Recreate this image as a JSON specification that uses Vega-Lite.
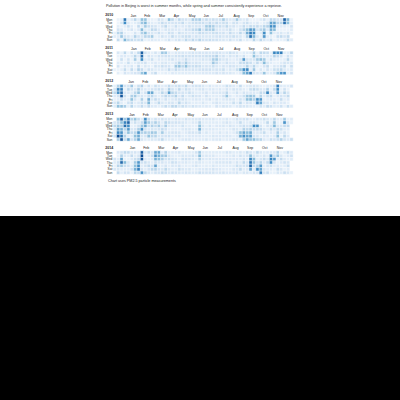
{
 "$schema": "https://vega.github.io/schema/vega-lite/v6.json",
 "background": "white",
 "padding": {"left": 0, "top": 4, "right": 0, "bottom": 0},
 "center": true,
 "spacing": 3.2,
 "title": {"text": "Pollution in Beijing is worst in summer months, while spring and summer consistently experience a reprieve.", "anchor": "start", "dx": 106, "fontSize": 3.7, "fontWeight": "normal", "color": "#222", "offset": 5},
 "config": {"view": {"stroke": null}, "font": "Liberation Sans"},
 "data": {"values": [
{"d":"2010/1/1","v":40},{"d":"2010/1/2","v":60},{"d":"2010/1/3","v":120},{"d":"2010/1/4","v":30},{"d":"2010/1/5","v":25},{"d":"2010/1/6","v":55},{"d":"2010/1/7","v":90},{"d":"2010/1/8","v":140},{"d":"2010/1/9","v":60},{"d":"2010/1/10","v":30},{"d":"2010/1/11","v":45},{"d":"2010/1/12","v":80},{"d":"2010/1/13","v":35},{"d":"2010/1/14","v":70},{"d":"2010/1/15","v":150},{"d":"2010/1/16","v":180},{"d":"2010/1/17","v":220},{"d":"2010/1/18","v":350},{"d":"2010/1/19","v":300},{"d":"2010/1/20","v":60},{"d":"2010/1/21","v":30},{"d":"2010/1/22","v":50},{"d":"2010/1/23","v":90},{"d":"2010/1/24","v":130},{"d":"2010/1/25","v":40},{"d":"2010/1/26","v":70},{"d":"2010/1/27","v":110},{"d":"2010/1/28","v":60},{"d":"2010/1/29","v":30},{"d":"2010/1/30","v":80},{"d":"2010/1/31","v":120},
{"d":"2010/2/1","v":70},{"d":"2010/2/2","v":40},{"d":"2010/2/3","v":60},{"d":"2010/2/4","v":90},{"d":"2010/2/5","v":30},{"d":"2010/2/6","v":50},{"d":"2010/2/7","v":100},{"d":"2010/2/8","v":140},{"d":"2010/2/9","v":60},{"d":"2010/2/10","v":25},{"d":"2010/2/11","v":40},{"d":"2010/2/12","v":90},{"d":"2010/2/13","v":150},{"d":"2010/2/14","v":110},{"d":"2010/2/15","v":60},{"d":"2010/2/16","v":80},{"d":"2010/2/17","v":120},{"d":"2010/2/18","v":70},{"d":"2010/2/19","v":40},{"d":"2010/2/20","v":90},{"d":"2010/2/21","v":130},{"d":"2010/2/22","v":200},{"d":"2010/2/23","v":180},{"d":"2010/2/24","v":60},{"d":"2010/2/25","v":210},{"d":"2010/2/26","v":150},{"d":"2010/2/27","v":80},{"d":"2010/2/28","v":40},
{"d":"2010/3/1","v":190},{"d":"2010/3/2","v":220},{"d":"2010/3/3","v":170},{"d":"2010/3/4","v":60},{"d":"2010/3/5","v":200},{"d":"2010/3/6","v":140},{"d":"2010/3/7","v":50},{"d":"2010/3/8","v":40},{"d":"2010/3/9","v":80},{"d":"2010/3/10","v":110},{"d":"2010/3/11","v":60},{"d":"2010/3/12","v":90},{"d":"2010/3/13","v":130},{"d":"2010/3/14","v":70},{"d":"2010/3/15","v":40},{"d":"2010/3/16","v":60},{"d":"2010/3/17","v":100},{"d":"2010/3/18","v":130},{"d":"2010/3/19","v":80},{"d":"2010/3/20","v":170},{"d":"2010/3/21","v":60},{"d":"2010/3/22","v":30},{"d":"2010/3/23","v":50},{"d":"2010/3/24","v":90},{"d":"2010/3/25","v":120},{"d":"2010/3/26","v":70},{"d":"2010/3/27","v":40},{"d":"2010/3/28","v":60},{"d":"2010/3/29","v":100},{"d":"2010/3/30","v":80},{"d":"2010/3/31","v":50},
{"d":"2010/4/1","v":70},{"d":"2010/4/2","v":110},{"d":"2010/4/3","v":60},{"d":"2010/4/4","v":40},{"d":"2010/4/5","v":80},{"d":"2010/4/6","v":120},{"d":"2010/4/7","v":90},{"d":"2010/4/8","v":50},{"d":"2010/4/9","v":70},{"d":"2010/4/10","v":100},{"d":"2010/4/11","v":60},{"d":"2010/4/12","v":40},{"d":"2010/4/13","v":90},{"d":"2010/4/14","v":130},{"d":"2010/4/15","v":80},{"d":"2010/4/16","v":50},{"d":"2010/4/17","v":70},{"d":"2010/4/18","v":100},{"d":"2010/4/19","v":200},{"d":"2010/4/20","v":90},{"d":"2010/4/21","v":60},{"d":"2010/4/22","v":80},{"d":"2010/4/23","v":110},{"d":"2010/4/24","v":70},{"d":"2010/4/25","v":50},{"d":"2010/4/26","v":130},{"d":"2010/4/27","v":90},{"d":"2010/4/28","v":60},{"d":"2010/4/29","v":80},{"d":"2010/4/30","v":100},
{"d":"2010/5/1","v":120},{"d":"2010/5/2","v":80},{"d":"2010/5/3","v":60},{"d":"2010/5/4","v":90},{"d":"2010/5/5","v":110},{"d":"2010/5/6","v":70},{"d":"2010/5/7","v":50},{"d":"2010/5/8","v":80},{"d":"2010/5/9","v":100},{"d":"2010/5/10","v":130},{"d":"2010/5/11","v":90},{"d":"2010/5/12","v":60},{"d":"2010/5/13","v":70},{"d":"2010/5/14","v":110},{"d":"2010/5/15","v":80},{"d":"2010/5/16","v":60},{"d":"2010/5/17","v":90},{"d":"2010/5/18","v":120},{"d":"2010/5/19","v":70},{"d":"2010/5/20","v":50},{"d":"2010/5/21","v":80},{"d":"2010/5/22","v":100},{"d":"2010/5/23","v":130},{"d":"2010/5/24","v":90},{"d":"2010/5/25","v":60},{"d":"2010/5/26","v":70},{"d":"2010/5/27","v":100},{"d":"2010/5/28","v":80},{"d":"2010/5/29","v":110},{"d":"2010/5/30","v":90},{"d":"2010/5/31","v":70},
{"d":"2010/6/1","v":80},{"d":"2010/6/2","v":100},{"d":"2010/6/3","v":90},{"d":"2010/6/4","v":70},{"d":"2010/6/5","v":110},{"d":"2010/6/6","v":130},{"d":"2010/6/7","v":160},{"d":"2010/6/8","v":100},{"d":"2010/6/9","v":80},{"d":"2010/6/10","v":120},{"d":"2010/6/11","v":90},{"d":"2010/6/12","v":70},{"d":"2010/6/13","v":100},{"d":"2010/6/14","v":150},{"d":"2010/6/15","v":110},{"d":"2010/6/16","v":90},{"d":"2010/6/17","v":130},{"d":"2010/6/18","v":80},{"d":"2010/6/19","v":100},{"d":"2010/6/20","v":140},{"d":"2010/6/21","v":170},{"d":"2010/6/22","v":110},{"d":"2010/6/23","v":90},{"d":"2010/6/24","v":180},{"d":"2010/6/25","v":120},{"d":"2010/6/26","v":80},{"d":"2010/6/27","v":100},{"d":"2010/6/28","v":90},{"d":"2010/6/29","v":110},{"d":"2010/6/30","v":70},
{"d":"2010/7/1","v":90},{"d":"2010/7/2","v":110},{"d":"2010/7/3","v":80},{"d":"2010/7/4","v":100},{"d":"2010/7/5","v":120},{"d":"2010/7/6","v":90},{"d":"2010/7/7","v":170},{"d":"2010/7/8","v":160},{"d":"2010/7/9","v":100},{"d":"2010/7/10","v":80},{"d":"2010/7/11","v":110},{"d":"2010/7/12","v":90},{"d":"2010/7/13","v":120},{"d":"2010/7/14","v":180},{"d":"2010/7/15","v":150},{"d":"2010/7/16","v":90},{"d":"2010/7/17","v":80},{"d":"2010/7/18","v":100},{"d":"2010/7/19","v":110},{"d":"2010/7/20","v":90},{"d":"2010/7/21","v":160},{"d":"2010/7/22","v":170},{"d":"2010/7/23","v":110},{"d":"2010/7/24","v":80},{"d":"2010/7/25","v":100},{"d":"2010/7/26","v":90},{"d":"2010/7/27","v":120},{"d":"2010/7/28","v":100},{"d":"2010/7/29","v":80},{"d":"2010/7/30","v":110},{"d":"2010/7/31","v":90},
{"d":"2010/8/1","v":80},{"d":"2010/8/2","v":100},{"d":"2010/8/3","v":90},{"d":"2010/8/4","v":110},{"d":"2010/8/5","v":70},{"d":"2010/8/6","v":90},{"d":"2010/8/7","v":100},{"d":"2010/8/8","v":80},{"d":"2010/8/9","v":170},{"d":"2010/8/10","v":110},{"d":"2010/8/11","v":90},{"d":"2010/8/12","v":70},{"d":"2010/8/13","v":100},{"d":"2010/8/14","v":80},{"d":"2010/8/15","v":60},{"d":"2010/8/16","v":90},{"d":"2010/8/17","v":110},{"d":"2010/8/18","v":130},{"d":"2010/8/19","v":80},{"d":"2010/8/20","v":60},{"d":"2010/8/21","v":90},{"d":"2010/8/22","v":100},{"d":"2010/8/23","v":70},{"d":"2010/8/24","v":50},{"d":"2010/8/25","v":80},{"d":"2010/8/26","v":110},{"d":"2010/8/27","v":120},{"d":"2010/8/28","v":90},{"d":"2010/8/29","v":60},{"d":"2010/8/30","v":70},{"d":"2010/8/31","v":100},
{"d":"2010/9/1","v":90},{"d":"2010/9/2","v":60},{"d":"2010/9/3","v":80},{"d":"2010/9/4","v":110},{"d":"2010/9/5","v":70},{"d":"2010/9/6","v":170},{"d":"2010/9/7","v":100},{"d":"2010/9/8","v":60},{"d":"2010/9/9","v":40},{"d":"2010/9/10","v":70},{"d":"2010/9/11","v":90},{"d":"2010/9/12","v":110},{"d":"2010/9/13","v":80},{"d":"2010/9/14","v":50},{"d":"2010/9/15","v":70},{"d":"2010/9/16","v":100},{"d":"2010/9/17","v":130},{"d":"2010/9/18","v":80},{"d":"2010/9/19","v":40},{"d":"2010/9/20","v":60},{"d":"2010/9/21","v":90},{"d":"2010/9/22","v":120},{"d":"2010/9/23","v":140},{"d":"2010/9/24","v":70},{"d":"2010/9/25","v":40},{"d":"2010/9/26","v":60},{"d":"2010/9/27","v":90},{"d":"2010/9/28","v":110},{"d":"2010/9/29","v":80},{"d":"2010/9/30","v":200},
{"d":"2010/10/1","v":240},{"d":"2010/10/2","v":150},{"d":"2010/10/3","v":40},{"d":"2010/10/4","v":30},{"d":"2010/10/5","v":60},{"d":"2010/10/6","v":120},{"d":"2010/10/7","v":280},{"d":"2010/10/8","v":330},{"d":"2010/10/9","v":360},{"d":"2010/10/10","v":140},{"d":"2010/10/11","v":30},{"d":"2010/10/12","v":50},{"d":"2010/10/13","v":110},{"d":"2010/10/14","v":260},{"d":"2010/10/15","v":300},{"d":"2010/10/16","v":220},{"d":"2010/10/17","v":60},{"d":"2010/10/18","v":30},{"d":"2010/10/19","v":70},{"d":"2010/10/20","v":120},{"d":"2010/10/21","v":90},{"d":"2010/10/22","v":40},{"d":"2010/10/23","v":80},{"d":"2010/10/24","v":130},{"d":"2010/10/25","v":60},{"d":"2010/10/26","v":30},{"d":"2010/10/27","v":90},{"d":"2010/10/28","v":140},{"d":"2010/10/29","v":60},{"d":"2010/10/30","v":40},{"d":"2010/10/31","v":80},
{"d":"2010/11/1","v":100},{"d":"2010/11/2","v":60},{"d":"2010/11/3","v":140},{"d":"2010/11/4","v":180},{"d":"2010/11/5","v":300},{"d":"2010/11/6","v":280},{"d":"2010/11/7","v":60},{"d":"2010/11/8","v":40},{"d":"2010/11/9","v":90},{"d":"2010/11/10","v":150},{"d":"2010/11/11","v":70},{"d":"2010/11/12","v":30},{"d":"2010/11/13","v":60},{"d":"2010/11/14","v":110},{"d":"2010/11/15","v":130},{"d":"2010/11/16","v":260},{"d":"2010/11/17","v":300},{"d":"2010/11/18","v":240},{"d":"2010/11/19","v":200},{"d":"2010/11/20","v":50},{"d":"2010/11/21","v":30},{"d":"2010/11/22","v":120},{"d":"2010/11/23","v":250},{"d":"2010/11/24","v":290},{"d":"2010/11/25","v":210},{"d":"2010/11/26","v":60},{"d":"2010/11/27","v":30},{"d":"2010/11/28","v":50},{"d":"2010/11/29","v":90},{"d":"2010/11/30","v":140},
{"d":"2010/12/1","v":60},{"d":"2010/12/2","v":30},{"d":"2010/12/3","v":70},{"d":"2010/12/4","v":110},{"d":"2010/12/5","v":40},{"d":"2010/12/6","v":90},{"d":"2010/12/7","v":140},{"d":"2010/12/8","v":60},{"d":"2010/12/9","v":30},{"d":"2010/12/10","v":80},{"d":"2010/12/11","v":120},{"d":"2010/12/12","v":50},{"d":"2010/12/13","v":400},{"d":"2010/12/14","v":360},{"d":"2010/12/15","v":60},{"d":"2010/12/16","v":30},{"d":"2010/12/17","v":50},{"d":"2010/12/18","v":90},{"d":"2010/12/19","v":130},{"d":"2010/12/20","v":220},{"d":"2010/12/21","v":200},{"d":"2010/12/22","v":40},{"d":"2010/12/23","v":30},{"d":"2010/12/24","v":80},{"d":"2010/12/25","v":120},{"d":"2010/12/26","v":60},{"d":"2010/12/27","v":30},{"d":"2010/12/28","v":50},{"d":"2010/12/29","v":90},{"d":"2010/12/30","v":60},{"d":"2010/12/31","v":40},
{"d":"2011/1/1","v":30},{"d":"2011/1/2","v":50},{"d":"2011/1/3","v":80},{"d":"2011/1/4","v":40},{"d":"2011/1/5","v":25},{"d":"2011/1/6","v":60},{"d":"2011/1/7","v":90},{"d":"2011/1/8","v":30},{"d":"2011/1/9","v":20},{"d":"2011/1/10","v":40},{"d":"2011/1/11","v":70},{"d":"2011/1/12","v":110},{"d":"2011/1/13","v":60},{"d":"2011/1/14","v":30},{"d":"2011/1/15","v":50},{"d":"2011/1/16","v":90},{"d":"2011/1/17","v":130},{"d":"2011/1/18","v":70},{"d":"2011/1/19","v":30},{"d":"2011/1/20","v":40},{"d":"2011/1/21","v":80},{"d":"2011/1/22","v":120},{"d":"2011/1/23","v":60},{"d":"2011/1/24","v":30},{"d":"2011/1/25","v":50},{"d":"2011/1/26","v":90},{"d":"2011/1/27","v":110},{"d":"2011/1/28","v":60},{"d":"2011/1/29","v":40},{"d":"2011/1/30","v":70},{"d":"2011/1/31","v":100},
{"d":"2011/2/1","v":60},{"d":"2011/2/2","v":30},{"d":"2011/2/3","v":40},{"d":"2011/2/4","v":80},{"d":"2011/2/5","v":120},{"d":"2011/2/6","v":90},{"d":"2011/2/7","v":50},{"d":"2011/2/8","v":140},{"d":"2011/2/9","v":170},{"d":"2011/2/10","v":60},{"d":"2011/2/11","v":30},{"d":"2011/2/12","v":50},{"d":"2011/2/13","v":90},{"d":"2011/2/14","v":130},{"d":"2011/2/15","v":70},{"d":"2011/2/16","v":40},{"d":"2011/2/17","v":80},{"d":"2011/2/18","v":120},{"d":"2011/2/19","v":150},{"d":"2011/2/20","v":190},{"d":"2011/2/21","v":400},{"d":"2011/2/22","v":380},{"d":"2011/2/23","v":300},{"d":"2011/2/24","v":80},{"d":"2011/2/25","v":40},{"d":"2011/2/26","v":120},{"d":"2011/2/27","v":260},{"d":"2011/2/28","v":100},
{"d":"2011/3/1","v":40},{"d":"2011/3/2","v":60},{"d":"2011/3/3","v":100},{"d":"2011/3/4","v":80},{"d":"2011/3/5","v":50},{"d":"2011/3/6","v":30},{"d":"2011/3/7","v":60},{"d":"2011/3/8","v":90},{"d":"2011/3/9","v":70},{"d":"2011/3/10","v":40},{"d":"2011/3/11","v":60},{"d":"2011/3/12","v":100},{"d":"2011/3/13","v":80},{"d":"2011/3/14","v":50},{"d":"2011/3/15","v":70},{"d":"2011/3/16","v":110},{"d":"2011/3/17","v":60},{"d":"2011/3/18","v":40},{"d":"2011/3/19","v":80},{"d":"2011/3/20","v":120},{"d":"2011/3/21","v":90},{"d":"2011/3/22","v":60},{"d":"2011/3/23","v":40},{"d":"2011/3/24","v":70},{"d":"2011/3/25","v":100},{"d":"2011/3/26","v":60},{"d":"2011/3/27","v":30},{"d":"2011/3/28","v":50},{"d":"2011/3/29","v":90},{"d":"2011/3/30","v":70},{"d":"2011/3/31","v":50},
{"d":"2011/4/1","v":80},{"d":"2011/4/2","v":60},{"d":"2011/4/3","v":40},{"d":"2011/4/4","v":180},{"d":"2011/4/5","v":90},{"d":"2011/4/6","v":60},{"d":"2011/4/7","v":80},{"d":"2011/4/8","v":110},{"d":"2011/4/9","v":70},{"d":"2011/4/10","v":50},{"d":"2011/4/11","v":170},{"d":"2011/4/12","v":100},{"d":"2011/4/13","v":60},{"d":"2011/4/14","v":80},{"d":"2011/4/15","v":90},{"d":"2011/4/16","v":60},{"d":"2011/4/17","v":40},{"d":"2011/4/18","v":70},{"d":"2011/4/19","v":100},{"d":"2011/4/20","v":80},{"d":"2011/4/21","v":60},{"d":"2011/4/22","v":90},{"d":"2011/4/23","v":120},{"d":"2011/4/24","v":70},{"d":"2011/4/25","v":50},{"d":"2011/4/26","v":80},{"d":"2011/4/27","v":100},{"d":"2011/4/28","v":60},{"d":"2011/4/29","v":40},{"d":"2011/4/30","v":70},
{"d":"2011/5/1","v":60},{"d":"2011/5/2","v":80},{"d":"2011/5/3","v":100},{"d":"2011/5/4","v":70},{"d":"2011/5/5","v":90},{"d":"2011/5/6","v":180},{"d":"2011/5/7","v":120},{"d":"2011/5/8","v":60},{"d":"2011/5/9","v":80},{"d":"2011/5/10","v":100},{"d":"2011/5/11","v":70},{"d":"2011/5/12","v":140},{"d":"2011/5/13","v":190},{"d":"2011/5/14","v":90},{"d":"2011/5/15","v":60},{"d":"2011/5/16","v":80},{"d":"2011/5/17","v":110},{"d":"2011/5/18","v":70},{"d":"2011/5/19","v":90},{"d":"2011/5/20","v":130},{"d":"2011/5/21","v":80},{"d":"2011/5/22","v":60},{"d":"2011/5/23","v":70},{"d":"2011/5/24","v":100},{"d":"2011/5/25","v":120},{"d":"2011/5/26","v":160},{"d":"2011/5/27","v":200},{"d":"2011/5/28","v":90},{"d":"2011/5/29","v":60},{"d":"2011/5/30","v":80},{"d":"2011/5/31","v":100},
{"d":"2011/6/1","v":70},{"d":"2011/6/2","v":90},{"d":"2011/6/3","v":110},{"d":"2011/6/4","v":80},{"d":"2011/6/5","v":60},{"d":"2011/6/6","v":90},{"d":"2011/6/7","v":100},{"d":"2011/6/8","v":70},{"d":"2011/6/9","v":80},{"d":"2011/6/10","v":110},{"d":"2011/6/11","v":90},{"d":"2011/6/12","v":60},{"d":"2011/6/13","v":80},{"d":"2011/6/14","v":100},{"d":"2011/6/15","v":70},{"d":"2011/6/16","v":90},{"d":"2011/6/17","v":120},{"d":"2011/6/18","v":80},{"d":"2011/6/19","v":60},{"d":"2011/6/20","v":90},{"d":"2011/6/21","v":100},{"d":"2011/6/22","v":70},{"d":"2011/6/23","v":80},{"d":"2011/6/24","v":110},{"d":"2011/6/25","v":90},{"d":"2011/6/26","v":70},{"d":"2011/6/27","v":80},{"d":"2011/6/28","v":100},{"d":"2011/6/29","v":90},{"d":"2011/6/30","v":60},
{"d":"2011/7/1","v":80},{"d":"2011/7/2","v":100},{"d":"2011/7/3","v":70},{"d":"2011/7/4","v":90},{"d":"2011/7/5","v":110},{"d":"2011/7/6","v":80},{"d":"2011/7/7","v":60},{"d":"2011/7/8","v":90},{"d":"2011/7/9","v":100},{"d":"2011/7/10","v":70},{"d":"2011/7/11","v":80},{"d":"2011/7/12","v":110},{"d":"2011/7/13","v":90},{"d":"2011/7/14","v":60},{"d":"2011/7/15","v":80},{"d":"2011/7/16","v":100},{"d":"2011/7/17","v":70},{"d":"2011/7/18","v":90},{"d":"2011/7/19","v":120},{"d":"2011/7/20","v":160},{"d":"2011/7/21","v":180},{"d":"2011/7/22","v":110},{"d":"2011/7/23","v":80},{"d":"2011/7/24","v":90},{"d":"2011/7/25","v":100},{"d":"2011/7/26","v":150},{"d":"2011/7/27","v":170},{"d":"2011/7/28","v":120},{"d":"2011/7/29","v":80},{"d":"2011/7/30","v":90},{"d":"2011/7/31","v":70},
{"d":"2011/8/1","v":90},{"d":"2011/8/2","v":80},{"d":"2011/8/3","v":100},{"d":"2011/8/4","v":70},{"d":"2011/8/5","v":60},{"d":"2011/8/6","v":80},{"d":"2011/8/7","v":90},{"d":"2011/8/8","v":70},{"d":"2011/8/9","v":100},{"d":"2011/8/10","v":80},{"d":"2011/8/11","v":60},{"d":"2011/8/12","v":90},{"d":"2011/8/13","v":110},{"d":"2011/8/14","v":70},{"d":"2011/8/15","v":80},{"d":"2011/8/16","v":60},{"d":"2011/8/17","v":90},{"d":"2011/8/18","v":100},{"d":"2011/8/19","v":70},{"d":"2011/8/20","v":50},{"d":"2011/8/21","v":80},{"d":"2011/8/22","v":110},{"d":"2011/8/23","v":90},{"d":"2011/8/24","v":60},{"d":"2011/8/25","v":70},{"d":"2011/8/26","v":100},{"d":"2011/8/27","v":80},{"d":"2011/8/28","v":60},{"d":"2011/8/29","v":90},{"d":"2011/8/30","v":70},{"d":"2011/8/31","v":50},
{"d":"2011/9/1","v":70},{"d":"2011/9/2","v":90},{"d":"2011/9/3","v":60},{"d":"2011/9/4","v":40},{"d":"2011/9/5","v":80},{"d":"2011/9/6","v":100},{"d":"2011/9/7","v":70},{"d":"2011/9/8","v":50},{"d":"2011/9/9","v":80},{"d":"2011/9/10","v":110},{"d":"2011/9/11","v":70},{"d":"2011/9/12","v":40},{"d":"2011/9/13","v":60},{"d":"2011/9/14","v":90},{"d":"2011/9/15","v":120},{"d":"2011/9/16","v":80},{"d":"2011/9/17","v":190},{"d":"2011/9/18","v":210},{"d":"2011/9/19","v":60},{"d":"2011/9/20","v":100},{"d":"2011/9/21","v":280},{"d":"2011/9/22","v":120},{"d":"2011/9/23","v":80},{"d":"2011/9/24","v":300},{"d":"2011/9/25","v":260},{"d":"2011/9/26","v":60},{"d":"2011/9/27","v":40},{"d":"2011/9/28","v":90},{"d":"2011/9/29","v":130},{"d":"2011/9/30","v":150},
{"d":"2011/10/1","v":310},{"d":"2011/10/2","v":340},{"d":"2011/10/3","v":60},{"d":"2011/10/4","v":40},{"d":"2011/10/5","v":80},{"d":"2011/10/6","v":110},{"d":"2011/10/7","v":70},{"d":"2011/10/8","v":50},{"d":"2011/10/9","v":90},{"d":"2011/10/10","v":160},{"d":"2011/10/11","v":200},{"d":"2011/10/12","v":90},{"d":"2011/10/13","v":60},{"d":"2011/10/14","v":140},{"d":"2011/10/15","v":180},{"d":"2011/10/16","v":80},{"d":"2011/10/17","v":40},{"d":"2011/10/18","v":100},{"d":"2011/10/19","v":170},{"d":"2011/10/20","v":120},{"d":"2011/10/21","v":60},{"d":"2011/10/22","v":30},{"d":"2011/10/23","v":70},{"d":"2011/10/24","v":130},{"d":"2011/10/25","v":90},{"d":"2011/10/26","v":200},{"d":"2011/10/27","v":60},{"d":"2011/10/28","v":40},{"d":"2011/10/29","v":80},{"d":"2011/10/30","v":190},{"d":"2011/10/31","v":120},
{"d":"2011/11/1","v":60},{"d":"2011/11/2","v":170},{"d":"2011/11/3","v":210},{"d":"2011/11/4","v":90},{"d":"2011/11/5","v":40},{"d":"2011/11/6","v":60},{"d":"2011/11/7","v":110},{"d":"2011/11/8","v":70},{"d":"2011/11/9","v":40},{"d":"2011/11/10","v":80},{"d":"2011/11/11","v":120},{"d":"2011/11/12","v":90},{"d":"2011/11/13","v":60},{"d":"2011/11/14","v":40},{"d":"2011/11/15","v":70},{"d":"2011/11/16","v":100},{"d":"2011/11/17","v":60},{"d":"2011/11/18","v":30},{"d":"2011/11/19","v":50},{"d":"2011/11/20","v":90},{"d":"2011/11/21","v":320},{"d":"2011/11/22","v":150},{"d":"2011/11/23","v":60},{"d":"2011/11/24","v":40},{"d":"2011/11/25","v":80},{"d":"2011/11/26","v":110},{"d":"2011/11/27","v":200},{"d":"2011/11/28","v":300},{"d":"2011/11/29","v":120},{"d":"2011/11/30","v":50},
{"d":"2011/12/1","v":40},{"d":"2011/12/2","v":70},{"d":"2011/12/3","v":110},{"d":"2011/12/4","v":280},{"d":"2011/12/5","v":340},{"d":"2011/12/6","v":90},{"d":"2011/12/7","v":40},{"d":"2011/12/8","v":60},{"d":"2011/12/9","v":100},{"d":"2011/12/10","v":130},{"d":"2011/12/11","v":290},{"d":"2011/12/12","v":60},{"d":"2011/12/13","v":30},{"d":"2011/12/14","v":50},{"d":"2011/12/15","v":90},{"d":"2011/12/16","v":120},{"d":"2011/12/17","v":70},{"d":"2011/12/18","v":40},{"d":"2011/12/19","v":60},{"d":"2011/12/20","v":100},{"d":"2011/12/21","v":140},{"d":"2011/12/22","v":80},{"d":"2011/12/23","v":30},{"d":"2011/12/24","v":50},{"d":"2011/12/25","v":90},{"d":"2011/12/26","v":130},{"d":"2011/12/27","v":60},{"d":"2011/12/28","v":40},{"d":"2011/12/29","v":80},{"d":"2011/12/30","v":110},{"d":"2011/12/31","v":70},
{"d":"2012/1/1","v":60},{"d":"2012/1/2","v":40},{"d":"2012/1/3","v":90},{"d":"2012/1/4","v":130},{"d":"2012/1/5","v":70},{"d":"2012/1/6","v":40},{"d":"2012/1/7","v":80},{"d":"2012/1/8","v":200},{"d":"2012/1/9","v":150},{"d":"2012/1/10","v":320},{"d":"2012/1/11","v":290},{"d":"2012/1/12","v":100},{"d":"2012/1/13","v":60},{"d":"2012/1/14","v":140},{"d":"2012/1/15","v":190},{"d":"2012/1/16","v":280},{"d":"2012/1/17","v":340},{"d":"2012/1/18","v":380},{"d":"2012/1/19","v":420},{"d":"2012/1/20","v":120},{"d":"2012/1/21","v":60},{"d":"2012/1/22","v":160},{"d":"2012/1/23","v":90},{"d":"2012/1/24","v":40},{"d":"2012/1/25","v":70},{"d":"2012/1/26","v":110},{"d":"2012/1/27","v":60},{"d":"2012/1/28","v":30},{"d":"2012/1/29","v":50},{"d":"2012/1/30","v":90},{"d":"2012/1/31","v":130},
{"d":"2012/2/1","v":70},{"d":"2012/2/2","v":40},{"d":"2012/2/3","v":60},{"d":"2012/2/4","v":100},{"d":"2012/2/5","v":140},{"d":"2012/2/6","v":180},{"d":"2012/2/7","v":90},{"d":"2012/2/8","v":60},{"d":"2012/2/9","v":150},{"d":"2012/2/10","v":200},{"d":"2012/2/11","v":120},{"d":"2012/2/12","v":60},{"d":"2012/2/13","v":40},{"d":"2012/2/14","v":80},{"d":"2012/2/15","v":130},{"d":"2012/2/16","v":170},{"d":"2012/2/17","v":90},{"d":"2012/2/18","v":50},{"d":"2012/2/19","v":70},{"d":"2012/2/20","v":110},{"d":"2012/2/21","v":160},{"d":"2012/2/22","v":190},{"d":"2012/2/23","v":80},{"d":"2012/2/24","v":40},{"d":"2012/2/25","v":70},{"d":"2012/2/26","v":120},{"d":"2012/2/27","v":150},{"d":"2012/2/28","v":80},{"d":"2012/2/29","v":60},
{"d":"2012/3/1","v":90},{"d":"2012/3/2","v":160},{"d":"2012/3/3","v":110},{"d":"2012/3/4","v":60},{"d":"2012/3/5","v":40},{"d":"2012/3/6","v":70},{"d":"2012/3/7","v":100},{"d":"2012/3/8","v":60},{"d":"2012/3/9","v":40},{"d":"2012/3/10","v":80},{"d":"2012/3/11","v":120},{"d":"2012/3/12","v":90},{"d":"2012/3/13","v":60},{"d":"2012/3/14","v":260},{"d":"2012/3/15","v":110},{"d":"2012/3/16","v":240},{"d":"2012/3/17","v":220},{"d":"2012/3/18","v":70},{"d":"2012/3/19","v":40},{"d":"2012/3/20","v":90},{"d":"2012/3/21","v":250},{"d":"2012/3/22","v":130},{"d":"2012/3/23","v":80},{"d":"2012/3/24","v":50},{"d":"2012/3/25","v":70},{"d":"2012/3/26","v":110},{"d":"2012/3/27","v":90},{"d":"2012/3/28","v":60},{"d":"2012/3/29","v":80},{"d":"2012/3/30","v":120},{"d":"2012/3/31","v":70},
{"d":"2012/4/1","v":50},{"d":"2012/4/2","v":80},{"d":"2012/4/3","v":110},{"d":"2012/4/4","v":70},{"d":"2012/4/5","v":50},{"d":"2012/4/6","v":90},{"d":"2012/4/7","v":130},{"d":"2012/4/8","v":80},{"d":"2012/4/9","v":60},{"d":"2012/4/10","v":100},{"d":"2012/4/11","v":140},{"d":"2012/4/12","v":90},{"d":"2012/4/13","v":60},{"d":"2012/4/14","v":80},{"d":"2012/4/15","v":120},{"d":"2012/4/16","v":70},{"d":"2012/4/17","v":50},{"d":"2012/4/18","v":90},{"d":"2012/4/19","v":130},{"d":"2012/4/20","v":100},{"d":"2012/4/21","v":60},{"d":"2012/4/22","v":80},{"d":"2012/4/23","v":120},{"d":"2012/4/24","v":160},{"d":"2012/4/25","v":270},{"d":"2012/4/26","v":110},{"d":"2012/4/27","v":60},{"d":"2012/4/28","v":90},{"d":"2012/4/29","v":130},{"d":"2012/4/30","v":80},
{"d":"2012/5/1","v":100},{"d":"2012/5/2","v":140},{"d":"2012/5/3","v":110},{"d":"2012/5/4","v":70},{"d":"2012/5/5","v":90},{"d":"2012/5/6","v":130},{"d":"2012/5/7","v":100},{"d":"2012/5/8","v":70},{"d":"2012/5/9","v":120},{"d":"2012/5/10","v":150},{"d":"2012/5/11","v":90},{"d":"2012/5/12","v":60},{"d":"2012/5/13","v":80},{"d":"2012/5/14","v":110},{"d":"2012/5/15","v":130},{"d":"2012/5/16","v":90},{"d":"2012/5/17","v":70},{"d":"2012/5/18","v":100},{"d":"2012/5/19","v":140},{"d":"2012/5/20","v":110},{"d":"2012/5/21","v":80},{"d":"2012/5/22","v":60},{"d":"2012/5/23","v":90},{"d":"2012/5/24","v":120},{"d":"2012/5/25","v":100},{"d":"2012/5/26","v":70},{"d":"2012/5/27","v":90},{"d":"2012/5/28","v":130},{"d":"2012/5/29","v":110},{"d":"2012/5/30","v":80},{"d":"2012/5/31","v":60},
{"d":"2012/6/1","v":80},{"d":"2012/6/2","v":100},{"d":"2012/6/3","v":70},{"d":"2012/6/4","v":60},{"d":"2012/6/5","v":90},{"d":"2012/6/6","v":110},{"d":"2012/6/7","v":80},{"d":"2012/6/8","v":60},{"d":"2012/6/9","v":70},{"d":"2012/6/10","v":100},{"d":"2012/6/11","v":90},{"d":"2012/6/12","v":60},{"d":"2012/6/13","v":80},{"d":"2012/6/14","v":110},{"d":"2012/6/15","v":70},{"d":"2012/6/16","v":50},{"d":"2012/6/17","v":80},{"d":"2012/6/18","v":100},{"d":"2012/6/19","v":70},{"d":"2012/6/20","v":60},{"d":"2012/6/21","v":90},{"d":"2012/6/22","v":80},{"d":"2012/6/23","v":60},{"d":"2012/6/24","v":70},{"d":"2012/6/25","v":100},{"d":"2012/6/26","v":80},{"d":"2012/6/27","v":60},{"d":"2012/6/28","v":90},{"d":"2012/6/29","v":70},{"d":"2012/6/30","v":50},
{"d":"2012/7/1","v":60},{"d":"2012/7/2","v":80},{"d":"2012/7/3","v":90},{"d":"2012/7/4","v":70},{"d":"2012/7/5","v":50},{"d":"2012/7/6","v":60},{"d":"2012/7/7","v":80},{"d":"2012/7/8","v":70},{"d":"2012/7/9","v":50},{"d":"2012/7/10","v":60},{"d":"2012/7/11","v":90},{"d":"2012/7/12","v":100},{"d":"2012/7/13","v":70},{"d":"2012/7/14","v":50},{"d":"2012/7/15","v":60},{"d":"2012/7/16","v":80},{"d":"2012/7/17","v":70},{"d":"2012/7/18","v":50},{"d":"2012/7/19","v":60},{"d":"2012/7/20","v":90},{"d":"2012/7/21","v":40},{"d":"2012/7/22","v":30},{"d":"2012/7/23","v":50},{"d":"2012/7/24","v":70},{"d":"2012/7/25","v":80},{"d":"2012/7/26","v":60},{"d":"2012/7/27","v":50},{"d":"2012/7/28","v":70},{"d":"2012/7/29","v":90},{"d":"2012/7/30","v":60},{"d":"2012/7/31","v":50},
{"d":"2012/8/1","v":70},{"d":"2012/8/2","v":60},{"d":"2012/8/3","v":80},{"d":"2012/8/4","v":90},{"d":"2012/8/5","v":60},{"d":"2012/8/6","v":50},{"d":"2012/8/7","v":70},{"d":"2012/8/8","v":80},{"d":"2012/8/9","v":60},{"d":"2012/8/10","v":50},{"d":"2012/8/11","v":70},{"d":"2012/8/12","v":90},{"d":"2012/8/13","v":60},{"d":"2012/8/14","v":50},{"d":"2012/8/15","v":80},{"d":"2012/8/16","v":100},{"d":"2012/8/17","v":70},{"d":"2012/8/18","v":60},{"d":"2012/8/19","v":80},{"d":"2012/8/20","v":110},{"d":"2012/8/21","v":90},{"d":"2012/8/22","v":130},{"d":"2012/8/23","v":190},{"d":"2012/8/24","v":80},{"d":"2012/8/25","v":60},{"d":"2012/8/26","v":70},{"d":"2012/8/27","v":90},{"d":"2012/8/28","v":60},{"d":"2012/8/29","v":50},{"d":"2012/8/30","v":70},{"d":"2012/8/31","v":80},
{"d":"2012/9/1","v":60},{"d":"2012/9/2","v":40},{"d":"2012/9/3","v":70},{"d":"2012/9/4","v":90},{"d":"2012/9/5","v":60},{"d":"2012/9/6","v":40},{"d":"2012/9/7","v":80},{"d":"2012/9/8","v":110},{"d":"2012/9/9","v":70},{"d":"2012/9/10","v":50},{"d":"2012/9/11","v":80},{"d":"2012/9/12","v":100},{"d":"2012/9/13","v":70},{"d":"2012/9/14","v":40},{"d":"2012/9/15","v":60},{"d":"2012/9/16","v":90},{"d":"2012/9/17","v":120},{"d":"2012/9/18","v":80},{"d":"2012/9/19","v":50},{"d":"2012/9/20","v":70},{"d":"2012/9/21","v":100},{"d":"2012/9/22","v":130},{"d":"2012/9/23","v":80},{"d":"2012/9/24","v":40},{"d":"2012/9/25","v":60},{"d":"2012/9/26","v":90},{"d":"2012/9/27","v":110},{"d":"2012/9/28","v":70},{"d":"2012/9/29","v":50},{"d":"2012/9/30","v":80},
{"d":"2012/10/1","v":60},{"d":"2012/10/2","v":40},{"d":"2012/10/3","v":70},{"d":"2012/10/4","v":180},{"d":"2012/10/5","v":200},{"d":"2012/10/6","v":90},{"d":"2012/10/7","v":60},{"d":"2012/10/8","v":80},{"d":"2012/10/9","v":110},{"d":"2012/10/10","v":70},{"d":"2012/10/11","v":190},{"d":"2012/10/12","v":210},{"d":"2012/10/13","v":80},{"d":"2012/10/14","v":50},{"d":"2012/10/15","v":90},{"d":"2012/10/16","v":130},{"d":"2012/10/17","v":70},{"d":"2012/10/18","v":170},{"d":"2012/10/19","v":150},{"d":"2012/10/20","v":60},{"d":"2012/10/21","v":40},{"d":"2012/10/22","v":80},{"d":"2012/10/23","v":110},{"d":"2012/10/24","v":60},{"d":"2012/10/25","v":40},{"d":"2012/10/26","v":300},{"d":"2012/10/27","v":330},{"d":"2012/10/28","v":90},{"d":"2012/10/29","v":50},{"d":"2012/10/30","v":80},{"d":"2012/10/31","v":120},
{"d":"2012/11/1","v":140},{"d":"2012/11/2","v":280},{"d":"2012/11/3","v":250},{"d":"2012/11/4","v":60},{"d":"2012/11/5","v":40},{"d":"2012/11/6","v":70},{"d":"2012/11/7","v":110},{"d":"2012/11/8","v":60},{"d":"2012/11/9","v":40},{"d":"2012/11/10","v":80},{"d":"2012/11/11","v":120},{"d":"2012/11/12","v":60},{"d":"2012/11/13","v":150},{"d":"2012/11/14","v":320},{"d":"2012/11/15","v":110},{"d":"2012/11/16","v":50},{"d":"2012/11/17","v":70},{"d":"2012/11/18","v":100},{"d":"2012/11/19","v":60},{"d":"2012/11/20","v":40},{"d":"2012/11/21","v":80},{"d":"2012/11/22","v":120},{"d":"2012/11/23","v":70},{"d":"2012/11/24","v":40},{"d":"2012/11/25","v":60},{"d":"2012/11/26","v":90},{"d":"2012/11/27","v":130},{"d":"2012/11/28","v":70},{"d":"2012/11/29","v":40},{"d":"2012/11/30","v":60},
{"d":"2012/12/1","v":90},{"d":"2012/12/2","v":60},{"d":"2012/12/3","v":330},{"d":"2012/12/4","v":300},{"d":"2012/12/5","v":280},{"d":"2012/12/6","v":70},{"d":"2012/12/7","v":40},{"d":"2012/12/8","v":60},{"d":"2012/12/9","v":100},{"d":"2012/12/10","v":70},{"d":"2012/12/11","v":40},{"d":"2012/12/12","v":60},{"d":"2012/12/13","v":90},{"d":"2012/12/14","v":120},{"d":"2012/12/15","v":70},{"d":"2012/12/16","v":40},{"d":"2012/12/17","v":60},{"d":"2012/12/18","v":100},{"d":"2012/12/19","v":140},{"d":"2012/12/20","v":80},{"d":"2012/12/21","v":50},{"d":"2012/12/22","v":70},{"d":"2012/12/23","v":110},{"d":"2012/12/24","v":60},{"d":"2012/12/25","v":40},{"d":"2012/12/26","v":80},{"d":"2012/12/27","v":120},{"d":"2012/12/28","v":70},{"d":"2012/12/29","v":40},{"d":"2012/12/30","v":60},{"d":"2012/12/31","v":90},
{"d":"2013/1/1","v":80},{"d":"2013/1/2","v":130},{"d":"2013/1/3","v":60},{"d":"2013/1/4","v":40},{"d":"2013/1/5","v":90},{"d":"2013/1/6","v":160},{"d":"2013/1/7","v":210},{"d":"2013/1/8","v":120},{"d":"2013/1/9","v":180},{"d":"2013/1/10","v":260},{"d":"2013/1/11","v":310},{"d":"2013/1/12","v":460},{"d":"2013/1/13","v":430},{"d":"2013/1/14","v":400},{"d":"2013/1/15","v":200},{"d":"2013/1/16","v":150},{"d":"2013/1/17","v":230},{"d":"2013/1/18","v":290},{"d":"2013/1/19","v":340},{"d":"2013/1/20","v":120},{"d":"2013/1/21","v":180},{"d":"2013/1/22","v":320},{"d":"2013/1/23","v":360},{"d":"2013/1/24","v":140},{"d":"2013/1/25","v":90},{"d":"2013/1/26","v":150},{"d":"2013/1/27","v":250},{"d":"2013/1/28","v":330},{"d":"2013/1/29","v":390},{"d":"2013/1/30","v":300},{"d":"2013/1/31","v":280},
{"d":"2013/2/1","v":200},{"d":"2013/2/2","v":60},{"d":"2013/2/3","v":90},{"d":"2013/2/4","v":140},{"d":"2013/2/5","v":60},{"d":"2013/2/6","v":40},{"d":"2013/2/7","v":80},{"d":"2013/2/8","v":120},{"d":"2013/2/9","v":60},{"d":"2013/2/10","v":150},{"d":"2013/2/11","v":190},{"d":"2013/2/12","v":110},{"d":"2013/2/13","v":60},{"d":"2013/2/14","v":90},{"d":"2013/2/15","v":140},{"d":"2013/2/16","v":200},{"d":"2013/2/17","v":250},{"d":"2013/2/18","v":120},{"d":"2013/2/19","v":70},{"d":"2013/2/20","v":100},{"d":"2013/2/21","v":160},{"d":"2013/2/22","v":280},{"d":"2013/2/23","v":240},{"d":"2013/2/24","v":90},{"d":"2013/2/25","v":60},{"d":"2013/2/26","v":120},{"d":"2013/2/27","v":180},{"d":"2013/2/28","v":300},
{"d":"2013/3/1","v":150},{"d":"2013/3/2","v":80},{"d":"2013/3/3","v":60},{"d":"2013/3/4","v":310},{"d":"2013/3/5","v":270},{"d":"2013/3/6","v":240},{"d":"2013/3/7","v":100},{"d":"2013/3/8","v":160},{"d":"2013/3/9","v":90},{"d":"2013/3/10","v":60},{"d":"2013/3/11","v":120},{"d":"2013/3/12","v":170},{"d":"2013/3/13","v":110},{"d":"2013/3/14","v":70},{"d":"2013/3/15","v":140},{"d":"2013/3/16","v":190},{"d":"2013/3/17","v":80},{"d":"2013/3/18","v":60},{"d":"2013/3/19","v":110},{"d":"2013/3/20","v":150},{"d":"2013/3/21","v":90},{"d":"2013/3/22","v":180},{"d":"2013/3/23","v":130},{"d":"2013/3/24","v":70},{"d":"2013/3/25","v":100},{"d":"2013/3/26","v":160},{"d":"2013/3/27","v":120},{"d":"2013/3/28","v":80},{"d":"2013/3/29","v":170},{"d":"2013/3/30","v":140},{"d":"2013/3/31","v":90},
{"d":"2013/4/1","v":70},{"d":"2013/4/2","v":110},{"d":"2013/4/3","v":160},{"d":"2013/4/4","v":90},{"d":"2013/4/5","v":60},{"d":"2013/4/6","v":80},{"d":"2013/4/7","v":130},{"d":"2013/4/8","v":100},{"d":"2013/4/9","v":60},{"d":"2013/4/10","v":80},{"d":"2013/4/11","v":120},{"d":"2013/4/12","v":170},{"d":"2013/4/13","v":90},{"d":"2013/4/14","v":60},{"d":"2013/4/15","v":80},{"d":"2013/4/16","v":140},{"d":"2013/4/17","v":160},{"d":"2013/4/18","v":100},{"d":"2013/4/19","v":70},{"d":"2013/4/20","v":90},{"d":"2013/4/21","v":60},{"d":"2013/4/22","v":80},{"d":"2013/4/23","v":110},{"d":"2013/4/24","v":70},{"d":"2013/4/25","v":50},{"d":"2013/4/26","v":80},{"d":"2013/4/27","v":100},{"d":"2013/4/28","v":70},{"d":"2013/4/29","v":60},{"d":"2013/4/30","v":90},
{"d":"2013/5/1","v":80},{"d":"2013/5/2","v":60},{"d":"2013/5/3","v":90},{"d":"2013/5/4","v":70},{"d":"2013/5/5","v":50},{"d":"2013/5/6","v":80},{"d":"2013/5/7","v":100},{"d":"2013/5/8","v":70},{"d":"2013/5/9","v":60},{"d":"2013/5/10","v":90},{"d":"2013/5/11","v":80},{"d":"2013/5/12","v":60},{"d":"2013/5/13","v":70},{"d":"2013/5/14","v":90},{"d":"2013/5/15","v":60},{"d":"2013/5/16","v":50},{"d":"2013/5/17","v":80},{"d":"2013/5/18","v":90},{"d":"2013/5/19","v":70},{"d":"2013/5/20","v":60},{"d":"2013/5/21","v":80},{"d":"2013/5/22","v":100},{"d":"2013/5/23","v":70},{"d":"2013/5/24","v":50},{"d":"2013/5/25","v":60},{"d":"2013/5/26","v":80},{"d":"2013/5/27","v":90},{"d":"2013/5/28","v":70},{"d":"2013/5/29","v":60},{"d":"2013/5/30","v":80},{"d":"2013/5/31","v":70},
{"d":"2013/6/1","v":60},{"d":"2013/6/2","v":80},{"d":"2013/6/3","v":70},{"d":"2013/6/4","v":50},{"d":"2013/6/5","v":60},{"d":"2013/6/6","v":80},{"d":"2013/6/7","v":90},{"d":"2013/6/8","v":70},{"d":"2013/6/9","v":60},{"d":"2013/6/10","v":80},{"d":"2013/6/11","v":70},{"d":"2013/6/12","v":50},{"d":"2013/6/13","v":60},{"d":"2013/6/14","v":90},{"d":"2013/6/15","v":70},{"d":"2013/6/16","v":60},{"d":"2013/6/17","v":80},{"d":"2013/6/18","v":70},{"d":"2013/6/19","v":50},{"d":"2013/6/20","v":60},{"d":"2013/6/21","v":80},{"d":"2013/6/22","v":70},{"d":"2013/6/23","v":60},{"d":"2013/6/24","v":90},{"d":"2013/6/25","v":140},{"d":"2013/6/26","v":200},{"d":"2013/6/27","v":230},{"d":"2013/6/28","v":120},{"d":"2013/6/29","v":70},{"d":"2013/6/30","v":60},
{"d":"2013/7/1","v":70},{"d":"2013/7/2","v":60},{"d":"2013/7/3","v":80},{"d":"2013/7/4","v":70},{"d":"2013/7/5","v":50},{"d":"2013/7/6","v":60},{"d":"2013/7/7","v":80},{"d":"2013/7/8","v":70},{"d":"2013/7/9","v":60},{"d":"2013/7/10","v":50},{"d":"2013/7/11","v":70},{"d":"2013/7/12","v":80},{"d":"2013/7/13","v":60},{"d":"2013/7/14","v":50},{"d":"2013/7/15","v":70},{"d":"2013/7/16","v":60},{"d":"2013/7/17","v":80},{"d":"2013/7/18","v":70},{"d":"2013/7/19","v":50},{"d":"2013/7/20","v":60},{"d":"2013/7/21","v":70},{"d":"2013/7/22","v":80},{"d":"2013/7/23","v":60},{"d":"2013/7/24","v":50},{"d":"2013/7/25","v":70},{"d":"2013/7/26","v":60},{"d":"2013/7/27","v":80},{"d":"2013/7/28","v":70},{"d":"2013/7/29","v":50},{"d":"2013/7/30","v":60},{"d":"2013/7/31","v":70},
{"d":"2013/8/1","v":60},{"d":"2013/8/2","v":50},{"d":"2013/8/3","v":70},{"d":"2013/8/4","v":80},{"d":"2013/8/5","v":60},{"d":"2013/8/6","v":50},{"d":"2013/8/7","v":70},{"d":"2013/8/8","v":60},{"d":"2013/8/9","v":80},{"d":"2013/8/10","v":70},{"d":"2013/8/11","v":50},{"d":"2013/8/12","v":60},{"d":"2013/8/13","v":70},{"d":"2013/8/14","v":80},{"d":"2013/8/15","v":60},{"d":"2013/8/16","v":50},{"d":"2013/8/17","v":70},{"d":"2013/8/18","v":60},{"d":"2013/8/19","v":80},{"d":"2013/8/20","v":90},{"d":"2013/8/21","v":60},{"d":"2013/8/22","v":50},{"d":"2013/8/23","v":70},{"d":"2013/8/24","v":80},{"d":"2013/8/25","v":60},{"d":"2013/8/26","v":50},{"d":"2013/8/27","v":70},{"d":"2013/8/28","v":90},{"d":"2013/8/29","v":60},{"d":"2013/8/30","v":50},{"d":"2013/8/31","v":70},
{"d":"2013/9/1","v":80},{"d":"2013/9/2","v":60},{"d":"2013/9/3","v":50},{"d":"2013/9/4","v":70},{"d":"2013/9/5","v":90},{"d":"2013/9/6","v":60},{"d":"2013/9/7","v":50},{"d":"2013/9/8","v":80},{"d":"2013/9/9","v":100},{"d":"2013/9/10","v":70},{"d":"2013/9/11","v":60},{"d":"2013/9/12","v":80},{"d":"2013/9/13","v":110},{"d":"2013/9/14","v":70},{"d":"2013/9/15","v":50},{"d":"2013/9/16","v":80},{"d":"2013/9/17","v":120},{"d":"2013/9/18","v":90},{"d":"2013/9/19","v":60},{"d":"2013/9/20","v":200},{"d":"2013/9/21","v":240},{"d":"2013/9/22","v":180},{"d":"2013/9/23","v":90},{"d":"2013/9/24","v":60},{"d":"2013/9/25","v":110},{"d":"2013/9/26","v":150},{"d":"2013/9/27","v":250},{"d":"2013/9/28","v":290},{"d":"2013/9/29","v":260},{"d":"2013/9/30","v":100},
{"d":"2013/10/1","v":60},{"d":"2013/10/2","v":90},{"d":"2013/10/3","v":130},{"d":"2013/10/4","v":210},{"d":"2013/10/5","v":250},{"d":"2013/10/6","v":190},{"d":"2013/10/7","v":60},{"d":"2013/10/8","v":80},{"d":"2013/10/9","v":110},{"d":"2013/10/10","v":150},{"d":"2013/10/11","v":240},{"d":"2013/10/12","v":270},{"d":"2013/10/13","v":200},{"d":"2013/10/14","v":60},{"d":"2013/10/15","v":90},{"d":"2013/10/16","v":300},{"d":"2013/10/17","v":120},{"d":"2013/10/18","v":70},{"d":"2013/10/19","v":100},{"d":"2013/10/20","v":140},{"d":"2013/10/21","v":90},{"d":"2013/10/22","v":60},{"d":"2013/10/23","v":290},{"d":"2013/10/24","v":130},{"d":"2013/10/25","v":70},{"d":"2013/10/26","v":90},{"d":"2013/10/27","v":140},{"d":"2013/10/28","v":80},{"d":"2013/10/29","v":50},{"d":"2013/10/30","v":90},{"d":"2013/10/31","v":120},
{"d":"2013/11/1","v":80},{"d":"2013/11/2","v":50},{"d":"2013/11/3","v":70},{"d":"2013/11/4","v":110},{"d":"2013/11/5","v":60},{"d":"2013/11/6","v":40},{"d":"2013/11/7","v":80},{"d":"2013/11/8","v":120},{"d":"2013/11/9","v":70},{"d":"2013/11/10","v":50},{"d":"2013/11/11","v":80},{"d":"2013/11/12","v":130},{"d":"2013/11/13","v":90},{"d":"2013/11/14","v":60},{"d":"2013/11/15","v":40},{"d":"2013/11/16","v":70},{"d":"2013/11/17","v":110},{"d":"2013/11/18","v":60},{"d":"2013/11/19","v":40},{"d":"2013/11/20","v":80},{"d":"2013/11/21","v":120},{"d":"2013/11/22","v":70},{"d":"2013/11/23","v":50},{"d":"2013/11/24","v":90},{"d":"2013/11/25","v":130},{"d":"2013/11/26","v":180},{"d":"2013/11/27","v":220},{"d":"2013/11/28","v":80},{"d":"2013/11/29","v":50},{"d":"2013/11/30","v":70},
{"d":"2013/12/1","v":110},{"d":"2013/12/2","v":60},{"d":"2013/12/3","v":40},{"d":"2013/12/4","v":80},{"d":"2013/12/5","v":130},{"d":"2013/12/6","v":160},{"d":"2013/12/7","v":200},{"d":"2013/12/8","v":150},{"d":"2013/12/9","v":60},{"d":"2013/12/10","v":40},{"d":"2013/12/11","v":80},{"d":"2013/12/12","v":110},{"d":"2013/12/13","v":60},{"d":"2013/12/14","v":40},{"d":"2013/12/15","v":90},{"d":"2013/12/16","v":170},{"d":"2013/12/17","v":290},{"d":"2013/12/18","v":120},{"d":"2013/12/19","v":60},{"d":"2013/12/20","v":90},{"d":"2013/12/21","v":130},{"d":"2013/12/22","v":70},{"d":"2013/12/23","v":40},{"d":"2013/12/24","v":80},{"d":"2013/12/25","v":120},{"d":"2013/12/26","v":60},{"d":"2013/12/27","v":40},{"d":"2013/12/28","v":70},{"d":"2013/12/29","v":110},{"d":"2013/12/30","v":60},{"d":"2013/12/31","v":40},
{"d":"2014/1/1","v":90},{"d":"2014/1/2","v":60},{"d":"2014/1/3","v":40},{"d":"2014/1/4","v":80},{"d":"2014/1/5","v":120},{"d":"2014/1/6","v":70},{"d":"2014/1/7","v":40},{"d":"2014/1/8","v":60},{"d":"2014/1/9","v":100},{"d":"2014/1/10","v":140},{"d":"2014/1/11","v":80},{"d":"2014/1/12","v":50},{"d":"2014/1/13","v":90},{"d":"2014/1/14","v":150},{"d":"2014/1/15","v":260},{"d":"2014/1/16","v":380},{"d":"2014/1/17","v":170},{"d":"2014/1/18","v":60},{"d":"2014/1/19","v":90},{"d":"2014/1/20","v":130},{"d":"2014/1/21","v":70},{"d":"2014/1/22","v":40},{"d":"2014/1/23","v":210},{"d":"2014/1/24","v":110},{"d":"2014/1/25","v":60},{"d":"2014/1/26","v":90},{"d":"2014/1/27","v":120},{"d":"2014/1/28","v":60},{"d":"2014/1/29","v":40},{"d":"2014/1/30","v":80},{"d":"2014/1/31","v":100},
{"d":"2014/2/1","v":60},{"d":"2014/2/2","v":40},{"d":"2014/2/3","v":80},{"d":"2014/2/4","v":120},{"d":"2014/2/5","v":70},{"d":"2014/2/6","v":40},{"d":"2014/2/7","v":60},{"d":"2014/2/8","v":100},{"d":"2014/2/9","v":140},{"d":"2014/2/10","v":90},{"d":"2014/2/11","v":60},{"d":"2014/2/12","v":110},{"d":"2014/2/13","v":170},{"d":"2014/2/14","v":200},{"d":"2014/2/15","v":230},{"d":"2014/2/16","v":120},{"d":"2014/2/17","v":70},{"d":"2014/2/18","v":90},{"d":"2014/2/19","v":130},{"d":"2014/2/20","v":280},{"d":"2014/2/21","v":300},{"d":"2014/2/22","v":330},{"d":"2014/2/23","v":290},{"d":"2014/2/24","v":400},{"d":"2014/2/25","v":440},{"d":"2014/2/26","v":420},{"d":"2014/2/27","v":100},{"d":"2014/2/28","v":60},
{"d":"2014/3/1","v":90},{"d":"2014/3/2","v":130},{"d":"2014/3/3","v":80},{"d":"2014/3/4","v":50},{"d":"2014/3/5","v":70},{"d":"2014/3/6","v":110},{"d":"2014/3/7","v":90},{"d":"2014/3/8","v":60},{"d":"2014/3/9","v":80},{"d":"2014/3/10","v":120},{"d":"2014/3/11","v":70},{"d":"2014/3/12","v":50},{"d":"2014/3/13","v":80},{"d":"2014/3/14","v":120},{"d":"2014/3/15","v":90},{"d":"2014/3/16","v":60},{"d":"2014/3/17","v":80},{"d":"2014/3/18","v":110},{"d":"2014/3/19","v":70},{"d":"2014/3/20","v":50},{"d":"2014/3/21","v":90},{"d":"2014/3/22","v":130},{"d":"2014/3/23","v":100},{"d":"2014/3/24","v":250},{"d":"2014/3/25","v":280},{"d":"2014/3/26","v":230},{"d":"2014/3/27","v":110},{"d":"2014/3/28","v":260},{"d":"2014/3/29","v":140},{"d":"2014/3/30","v":90},{"d":"2014/3/31","v":250},
{"d":"2014/4/1","v":230},{"d":"2014/4/2","v":200},{"d":"2014/4/3","v":80},{"d":"2014/4/4","v":60},{"d":"2014/4/5","v":90},{"d":"2014/4/6","v":120},{"d":"2014/4/7","v":70},{"d":"2014/4/8","v":180},{"d":"2014/4/9","v":160},{"d":"2014/4/10","v":90},{"d":"2014/4/11","v":60},{"d":"2014/4/12","v":80},{"d":"2014/4/13","v":110},{"d":"2014/4/14","v":150},{"d":"2014/4/15","v":180},{"d":"2014/4/16","v":100},{"d":"2014/4/17","v":70},{"d":"2014/4/18","v":90},{"d":"2014/4/19","v":130},{"d":"2014/4/20","v":80},{"d":"2014/4/21","v":60},{"d":"2014/4/22","v":90},{"d":"2014/4/23","v":110},{"d":"2014/4/24","v":70},{"d":"2014/4/25","v":50},{"d":"2014/4/26","v":80},{"d":"2014/4/27","v":100},{"d":"2014/4/28","v":70},{"d":"2014/4/29","v":60},{"d":"2014/4/30","v":90},
{"d":"2014/5/1","v":110},{"d":"2014/5/2","v":80},{"d":"2014/5/3","v":60},{"d":"2014/5/4","v":90},{"d":"2014/5/5","v":70},{"d":"2014/5/6","v":50},{"d":"2014/5/7","v":80},{"d":"2014/5/8","v":100},{"d":"2014/5/9","v":70},{"d":"2014/5/10","v":60},{"d":"2014/5/11","v":80},{"d":"2014/5/12","v":90},{"d":"2014/5/13","v":60},{"d":"2014/5/14","v":50},{"d":"2014/5/15","v":70},{"d":"2014/5/16","v":90},{"d":"2014/5/17","v":110},{"d":"2014/5/18","v":70},{"d":"2014/5/19","v":60},{"d":"2014/5/20","v":80},{"d":"2014/5/21","v":100},{"d":"2014/5/22","v":70},{"d":"2014/5/23","v":50},{"d":"2014/5/24","v":80},{"d":"2014/5/25","v":90},{"d":"2014/5/26","v":60},{"d":"2014/5/27","v":70},{"d":"2014/5/28","v":100},{"d":"2014/5/29","v":80},{"d":"2014/5/30","v":60},{"d":"2014/5/31","v":70},
{"d":"2014/6/1","v":80},{"d":"2014/6/2","v":60},{"d":"2014/6/3","v":70},{"d":"2014/6/4","v":90},{"d":"2014/6/5","v":60},{"d":"2014/6/6","v":50},{"d":"2014/6/7","v":80},{"d":"2014/6/8","v":70},{"d":"2014/6/9","v":60},{"d":"2014/6/10","v":90},{"d":"2014/6/11","v":80},{"d":"2014/6/12","v":60},{"d":"2014/6/13","v":70},{"d":"2014/6/14","v":50},{"d":"2014/6/15","v":80},{"d":"2014/6/16","v":100},{"d":"2014/6/17","v":70},{"d":"2014/6/18","v":60},{"d":"2014/6/19","v":80},{"d":"2014/6/20","v":90},{"d":"2014/6/21","v":60},{"d":"2014/6/22","v":110},{"d":"2014/6/23","v":180},{"d":"2014/6/24","v":210},{"d":"2014/6/25","v":150},{"d":"2014/6/26","v":80},{"d":"2014/6/27","v":60},{"d":"2014/6/28","v":70},{"d":"2014/6/29","v":90},{"d":"2014/6/30","v":60},
{"d":"2014/7/1","v":70},{"d":"2014/7/2","v":80},{"d":"2014/7/3","v":60},{"d":"2014/7/4","v":50},{"d":"2014/7/5","v":70},{"d":"2014/7/6","v":90},{"d":"2014/7/7","v":60},{"d":"2014/7/8","v":80},{"d":"2014/7/9","v":70},{"d":"2014/7/10","v":50},{"d":"2014/7/11","v":60},{"d":"2014/7/12","v":80},{"d":"2014/7/13","v":90},{"d":"2014/7/14","v":60},{"d":"2014/7/15","v":70},{"d":"2014/7/16","v":80},{"d":"2014/7/17","v":60},{"d":"2014/7/18","v":50},{"d":"2014/7/19","v":70},{"d":"2014/7/20","v":90},{"d":"2014/7/21","v":60},{"d":"2014/7/22","v":80},{"d":"2014/7/23","v":70},{"d":"2014/7/24","v":60},{"d":"2014/7/25","v":80},{"d":"2014/7/26","v":90},{"d":"2014/7/27","v":70},{"d":"2014/7/28","v":60},{"d":"2014/7/29","v":50},{"d":"2014/7/30","v":70},{"d":"2014/7/31","v":80},
{"d":"2014/8/1","v":60},{"d":"2014/8/2","v":70},{"d":"2014/8/3","v":80},{"d":"2014/8/4","v":60},{"d":"2014/8/5","v":50},{"d":"2014/8/6","v":70},{"d":"2014/8/7","v":80},{"d":"2014/8/8","v":60},{"d":"2014/8/9","v":70},{"d":"2014/8/10","v":90},{"d":"2014/8/11","v":60},{"d":"2014/8/12","v":50},{"d":"2014/8/13","v":70},{"d":"2014/8/14","v":80},{"d":"2014/8/15","v":60},{"d":"2014/8/16","v":50},{"d":"2014/8/17","v":70},{"d":"2014/8/18","v":90},{"d":"2014/8/19","v":60},{"d":"2014/8/20","v":70},{"d":"2014/8/21","v":80},{"d":"2014/8/22","v":60},{"d":"2014/8/23","v":50},{"d":"2014/8/24","v":70},{"d":"2014/8/25","v":80},{"d":"2014/8/26","v":60},{"d":"2014/8/27","v":70},{"d":"2014/8/28","v":90},{"d":"2014/8/29","v":60},{"d":"2014/8/30","v":50},{"d":"2014/8/31","v":70},
{"d":"2014/9/1","v":60},{"d":"2014/9/2","v":80},{"d":"2014/9/3","v":70},{"d":"2014/9/4","v":50},{"d":"2014/9/5","v":60},{"d":"2014/9/6","v":80},{"d":"2014/9/7","v":90},{"d":"2014/9/8","v":60},{"d":"2014/9/9","v":50},{"d":"2014/9/10","v":70},{"d":"2014/9/11","v":90},{"d":"2014/9/12","v":110},{"d":"2014/9/13","v":70},{"d":"2014/9/14","v":50},{"d":"2014/9/15","v":80},{"d":"2014/9/16","v":100},{"d":"2014/9/17","v":70},{"d":"2014/9/18","v":60},{"d":"2014/9/19","v":90},{"d":"2014/9/20","v":120},{"d":"2014/9/21","v":80},{"d":"2014/9/22","v":60},{"d":"2014/9/23","v":70},{"d":"2014/9/24","v":100},{"d":"2014/9/25","v":130},{"d":"2014/9/26","v":90},{"d":"2014/9/27","v":60},{"d":"2014/9/28","v":80},{"d":"2014/9/29","v":120},{"d":"2014/9/30","v":90},
{"d":"2014/10/1","v":60},{"d":"2014/10/2","v":80},{"d":"2014/10/3","v":110},{"d":"2014/10/4","v":70},{"d":"2014/10/5","v":60},{"d":"2014/10/6","v":90},{"d":"2014/10/7","v":200},{"d":"2014/10/8","v":310},{"d":"2014/10/9","v":350},{"d":"2014/10/10","v":380},{"d":"2014/10/11","v":260},{"d":"2014/10/12","v":90},{"d":"2014/10/13","v":60},{"d":"2014/10/14","v":80},{"d":"2014/10/15","v":210},{"d":"2014/10/16","v":190},{"d":"2014/10/17","v":120},{"d":"2014/10/18","v":60},{"d":"2014/10/19","v":90},{"d":"2014/10/20","v":130},{"d":"2014/10/21","v":80},{"d":"2014/10/22","v":60},{"d":"2014/10/23","v":100},{"d":"2014/10/24","v":150},{"d":"2014/10/25","v":300},{"d":"2014/10/26","v":330},{"d":"2014/10/27","v":80},{"d":"2014/10/28","v":60},{"d":"2014/10/29","v":90},{"d":"2014/10/30","v":140},{"d":"2014/10/31","v":270},
{"d":"2014/11/1","v":250},{"d":"2014/11/2","v":80},{"d":"2014/11/3","v":60},{"d":"2014/11/4","v":90},{"d":"2014/11/5","v":120},{"d":"2014/11/6","v":70},{"d":"2014/11/7","v":50},{"d":"2014/11/8","v":80},{"d":"2014/11/9","v":110},{"d":"2014/11/10","v":70},{"d":"2014/11/11","v":50},{"d":"2014/11/12","v":80},{"d":"2014/11/13","v":120},{"d":"2014/11/14","v":90},{"d":"2014/11/15","v":60},{"d":"2014/11/16","v":40},{"d":"2014/11/17","v":80},{"d":"2014/11/18","v":280},{"d":"2014/11/19","v":320},{"d":"2014/11/20","v":300},{"d":"2014/11/21","v":110},{"d":"2014/11/22","v":60},{"d":"2014/11/23","v":40},{"d":"2014/11/24","v":80},{"d":"2014/11/25","v":110},{"d":"2014/11/26","v":280},{"d":"2014/11/27","v":90},{"d":"2014/11/28","v":60},{"d":"2014/11/29","v":40},{"d":"2014/11/30","v":80},
{"d":"2014/12/1","v":150},{"d":"2014/12/2","v":180},{"d":"2014/12/3","v":60},{"d":"2014/12/4","v":40},{"d":"2014/12/5","v":70},{"d":"2014/12/6","v":110},{"d":"2014/12/7","v":60},{"d":"2014/12/8","v":40},{"d":"2014/12/9","v":80},{"d":"2014/12/10","v":120},{"d":"2014/12/11","v":70},{"d":"2014/12/12","v":50},{"d":"2014/12/13","v":80},{"d":"2014/12/14","v":110},{"d":"2014/12/15","v":60},{"d":"2014/12/16","v":40},{"d":"2014/12/17","v":70},{"d":"2014/12/18","v":100},{"d":"2014/12/19","v":60},{"d":"2014/12/20","v":40},{"d":"2014/12/21","v":80},{"d":"2014/12/22","v":120},{"d":"2014/12/23","v":70},{"d":"2014/12/24","v":50},{"d":"2014/12/25","v":80},{"d":"2014/12/26","v":110},{"d":"2014/12/27","v":60},{"d":"2014/12/28","v":40},{"d":"2014/12/29","v":70},{"d":"2014/12/30","v":100},{"d":"2014/12/31","v":60}
 ]},
 "vconcat": [
  {"title": {"text": "2010", "anchor": "start", "fontSize": 3.5, "fontWeight": "bold", "color": "#222", "offset": -3.3},
   "transform": [{"filter": {"field": "d", "timeUnit": "year", "equal": 2010}}],
   "width": 180, "height": 23.5,
   "mark": {"type": "rect", "stroke": "white", "strokeWidth": 0.4},
   "encoding": {
    "x": {"field": "d", "timeUnit": "yearweek", "type": "temporal", "axis": {"orient": "top", "title": null, "tickCount": {"interval": "month", "step": 1}, "labelExpr": "month(datum.value) == 0 ? '' : timeFormat(datum.value - 864e5, '%b')", "labelAlign": "left", "labelFontSize": 3.5, "labelPadding": 1, "ticks": false, "domain": false, "grid": false, "labelFlush": false, "labelOverlap": false, "labelBound": false, "labelColor": "#222"}},
    "y": {"field": "d", "timeUnit": "day", "type": "ordinal", "sort": ["Mon","Tue","Wed","Thu","Fri","Sat","Sun"], "axis": {"title": null, "format": "%a", "labelFontSize": 3.2, "ticks": false, "domain": false, "labelPadding": 0.8, "labelColor": "#222"}},
    "color": {"field": "v", "type": "quantitative", "scale": {"domain": [0, 100, 200, 300, 450], "range": ["#f7fbff", "#cfe2f3", "#8fc1de", "#3f8dc6", "#0b4a92"], "clamp": true}, "legend": null}
   }},
  {"title": {"text": "2011", "anchor": "start", "fontSize": 3.5, "fontWeight": "bold", "color": "#222", "offset": -3.3},
   "transform": [{"filter": {"field": "d", "timeUnit": "year", "equal": 2011}}],
   "width": 180, "height": 23.5,
   "mark": {"type": "rect", "stroke": "white", "strokeWidth": 0.4},
   "encoding": {
    "x": {"field": "d", "timeUnit": "yearweek", "type": "temporal", "axis": {"orient": "top", "title": null, "tickCount": {"interval": "month", "step": 1}, "labelExpr": "month(datum.value) == 0 ? '' : timeFormat(datum.value - 864e5, '%b')", "labelAlign": "left", "labelFontSize": 3.5, "labelPadding": 1, "ticks": false, "domain": false, "grid": false, "labelFlush": false, "labelOverlap": false, "labelBound": false, "labelColor": "#222"}},
    "y": {"field": "d", "timeUnit": "day", "type": "ordinal", "sort": ["Mon","Tue","Wed","Thu","Fri","Sat","Sun"], "axis": {"title": null, "format": "%a", "labelFontSize": 3.2, "ticks": false, "domain": false, "labelPadding": 0.8, "labelColor": "#222"}},
    "color": {"field": "v", "type": "quantitative", "scale": {"domain": [0, 100, 200, 300, 450], "range": ["#f7fbff", "#cfe2f3", "#8fc1de", "#3f8dc6", "#0b4a92"], "clamp": true}, "legend": null}
   }},
  {"title": {"text": "2012", "anchor": "start", "fontSize": 3.5, "fontWeight": "bold", "color": "#222", "offset": -3.3},
   "transform": [{"filter": {"field": "d", "timeUnit": "year", "equal": 2012}}],
   "width": 180, "height": 23.5,
   "mark": {"type": "rect", "stroke": "white", "strokeWidth": 0.4},
   "encoding": {
    "x": {"field": "d", "timeUnit": "yearweek", "type": "temporal", "axis": {"orient": "top", "title": null, "tickCount": {"interval": "month", "step": 1}, "labelExpr": "month(datum.value) == 0 ? '' : timeFormat(datum.value - 864e5, '%b')", "labelAlign": "left", "labelFontSize": 3.5, "labelPadding": 1, "ticks": false, "domain": false, "grid": false, "labelFlush": false, "labelOverlap": false, "labelBound": false, "labelColor": "#222"}},
    "y": {"field": "d", "timeUnit": "day", "type": "ordinal", "sort": ["Mon","Tue","Wed","Thu","Fri","Sat","Sun"], "axis": {"title": null, "format": "%a", "labelFontSize": 3.2, "ticks": false, "domain": false, "labelPadding": 0.8, "labelColor": "#222"}},
    "color": {"field": "v", "type": "quantitative", "scale": {"domain": [0, 100, 200, 300, 450], "range": ["#f7fbff", "#cfe2f3", "#8fc1de", "#3f8dc6", "#0b4a92"], "clamp": true}, "legend": null}
   }},
  {"title": {"text": "2013", "anchor": "start", "fontSize": 3.5, "fontWeight": "bold", "color": "#222", "offset": -3.3},
   "transform": [{"filter": {"field": "d", "timeUnit": "year", "equal": 2013}}],
   "width": 180, "height": 23.5,
   "mark": {"type": "rect", "stroke": "white", "strokeWidth": 0.4},
   "encoding": {
    "x": {"field": "d", "timeUnit": "yearweek", "type": "temporal", "axis": {"orient": "top", "title": null, "tickCount": {"interval": "month", "step": 1}, "labelExpr": "month(datum.value) == 0 ? '' : timeFormat(datum.value - 864e5, '%b')", "labelAlign": "left", "labelFontSize": 3.5, "labelPadding": 1, "ticks": false, "domain": false, "grid": false, "labelFlush": false, "labelOverlap": false, "labelBound": false, "labelColor": "#222"}},
    "y": {"field": "d", "timeUnit": "day", "type": "ordinal", "sort": ["Mon","Tue","Wed","Thu","Fri","Sat","Sun"], "axis": {"title": null, "format": "%a", "labelFontSize": 3.2, "ticks": false, "domain": false, "labelPadding": 0.8, "labelColor": "#222"}},
    "color": {"field": "v", "type": "quantitative", "scale": {"domain": [0, 100, 200, 300, 450], "range": ["#f7fbff", "#cfe2f3", "#8fc1de", "#3f8dc6", "#0b4a92"], "clamp": true}, "legend": null}
   }},
  {"title": {"text": "2014", "anchor": "start", "fontSize": 3.5, "fontWeight": "bold", "color": "#222", "offset": -3.3},
   "transform": [{"filter": {"field": "d", "timeUnit": "year", "equal": 2014}}],
   "width": 180, "height": 23.5,
   "mark": {"type": "rect", "stroke": "white", "strokeWidth": 0.4},
   "encoding": {
    "x": {"field": "d", "timeUnit": "yearweek", "type": "temporal", "axis": {"orient": "top", "title": null, "tickCount": {"interval": "month", "step": 1}, "labelExpr": "month(datum.value) == 0 ? '' : timeFormat(datum.value - 864e5, '%b')", "labelAlign": "left", "labelFontSize": 3.5, "labelPadding": 1, "ticks": false, "domain": false, "grid": false, "labelFlush": false, "labelOverlap": false, "labelBound": false, "labelColor": "#222"}},
    "y": {"field": "d", "timeUnit": "day", "type": "ordinal", "sort": ["Mon","Tue","Wed","Thu","Fri","Sat","Sun"], "axis": {"title": null, "format": "%a", "labelFontSize": 3.2, "ticks": false, "domain": false, "labelPadding": 0.8, "labelColor": "#222"}},
    "color": {"field": "v", "type": "quantitative", "scale": {"domain": [0, 100, 200, 300, 450], "range": ["#f7fbff", "#cfe2f3", "#8fc1de", "#3f8dc6", "#0b4a92"], "clamp": true}, "legend": null}
   }},
  {"width": 406, "height": 200,
   "title": {"text": "Chart uses PM2.5 particle measurements", "anchor": "start", "dx": 108, "fontSize": 3.7, "fontWeight": "normal", "color": "#222", "offset": 33.5},
   "data": {"values": []},
   "mark": "point",
   "encoding": {},
   "view": {"fill": "black", "stroke": null}}
 ]
}
